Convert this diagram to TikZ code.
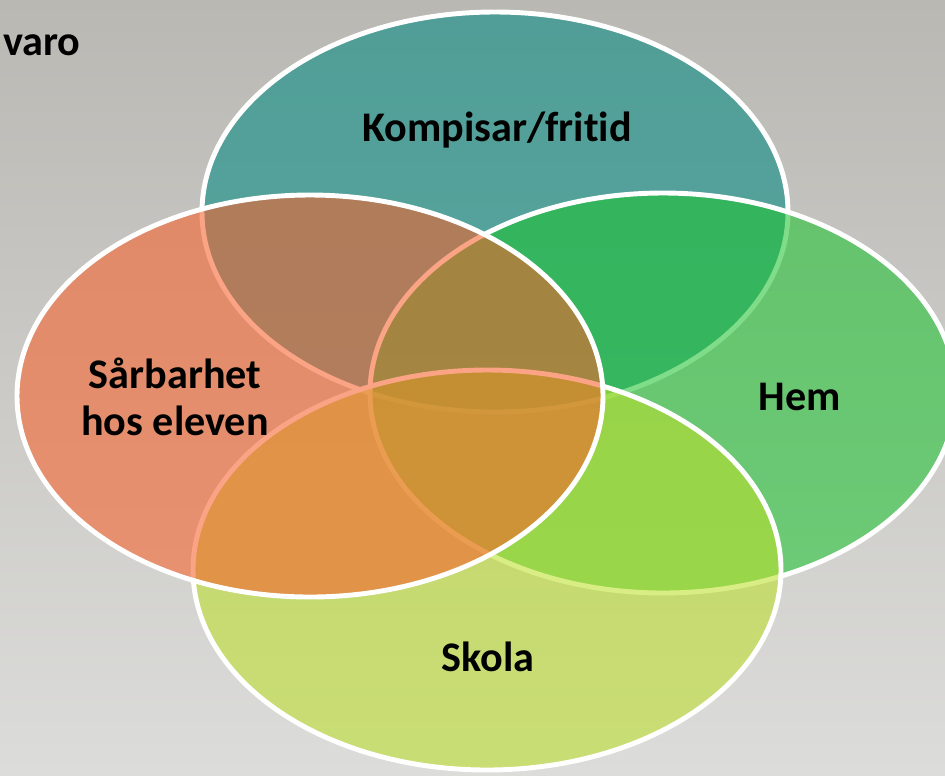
\documentclass[tikz,border=0pt]{standalone}
\usepackage{fontspec}
\setmainfont{Carlito}[Ligatures=NoCommon]
\usepackage{tikz}
\definecolor{hgtop}{HTML}{BAB8B3}
\definecolor{hgbot}{HTML}{DCDCDA}
\definecolor{kompis}{HTML}{008A81}
\definecolor{hem}{HTML}{1FC331}
\definecolor{skola}{HTML}{BDE02A}
\definecolor{elev}{HTML}{F7602A}
\tikzset{
  mengd/.style={draw=white,line width=2.8pt,fill opacity=0.57},
  etikett/.style={font=\fontsize{24}{27}\selectfont\bfseries,align=center,text=black},
}

\begin{document}
\begin{tikzpicture}[x=0.02cm,y=-0.02cm]
  \useasboundingbox (0,0) rectangle (945,775);
  \shade[top color=hgtop,bottom color=hgbot] (0,0) rectangle (945,775);
  \draw[mengd,fill=kompis] (495,212) ellipse [x radius=293,y radius=200];
  \draw[mengd,fill=hem] (663,393) ellipse [x radius=293,y radius=200];
  \draw[mengd,fill=skola] (487,570) ellipse [x radius=294,y radius=200];
  \draw[mengd,fill=elev] (310,396) ellipse [x radius=293,y radius=201];
  \node[etikett,anchor=west] (franvaro) at (-3,45) {varo};
  \node[etikett] (kompisar) at (497,130) {Kompisar/fritid};
  \node[etikett] (sarbarhet) at (175,397) {Sårbarhet\\hos eleven};
  \node[etikett] (hemmet) at (800,397) {Hem};
  \node[etikett] (skolan) at (488,657) {Skola};
\end{tikzpicture}
\end{document}
